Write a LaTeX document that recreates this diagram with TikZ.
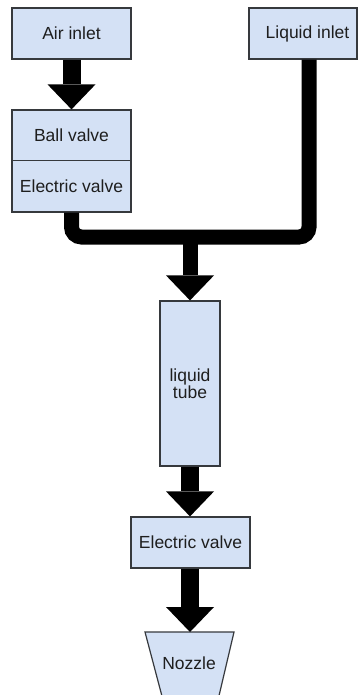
\documentclass[tikz,border=0pt]{standalone}
\usepackage{fontspec}
\setmainfont{Liberation Sans}
\usetikzlibrary{arrows.meta}
\definecolor{boxfill}{RGB}{212,225,245}
\definecolor{boxline}{RGB}{54,57,61}
\definecolor{txt}{RGB}{30,30,30}
\tikzset{
  box/.style={draw=boxline, fill=boxfill, line width=1.2pt, inner sep=0pt, text=txt,
    font=\fontsize{17.5}{17}\selectfont, align=center},
  blockarrow/.style={line width=18pt, draw=black, -{Triangle[width=48pt,length=25pt,line width=0pt]}},
  pipe/.style={line width=15pt, draw=black, rounded corners=10pt}
}
\begin{document}
\begin{tikzpicture}[x=1pt,y=-1pt]
\useasboundingbox (0,0) rectangle (359,695);
\clip (0,0) rectangle (359,695);
% boxes
\node[box, minimum width=119pt, minimum height=51pt] (air) at (71.5,33.5) {Air inlet};
\node[box, minimum width=119pt, minimum height=50.5pt] (ball) at (71.5,135.25) {Ball valve};
\node[box, minimum width=119pt, minimum height=51.5pt] (ev1) at (71.5,186.25) {Electric valve};
\node[box, minimum width=108pt, minimum height=51pt] (liq) at (303,33.5) {\hspace*{9pt}Liquid inlet};
\node[box, minimum width=60pt, minimum height=165pt] (tube) at (190,383.5) {liquid\\tube};
\node[box, minimum width=119pt, minimum height=51pt] (ev2) at (190.5,542.5) {Electric valve};
% nozzle
\draw[draw=boxline, fill=boxfill, line width=1.2pt] (145,632) -- (234,632) -- (218,700) -- (163,700) -- cycle;
\node[text=txt, font=\fontsize{17.5}{17}\selectfont, inner sep=0pt] (nozzle) at (189,663) {Nozzle};
\coordinate (noztop) at (190,632);
% pipes
\coordinate (join) at (190,237);
\draw[pipe] (ev1.south) -- (71.5,237) -- (309,237) -- ([xshift=6pt]liq.south);
% arrows
\draw[blockarrow] (air.south) -- (ball.north);
\draw[blockarrow, line width=15pt] (join) -- (tube.north);
\draw[blockarrow] (tube.south) -- ([xshift=-0.5pt]ev2.north);
\draw[blockarrow] ([xshift=-0.5pt]ev2.south) -- (noztop);
\end{tikzpicture}
\end{document}
